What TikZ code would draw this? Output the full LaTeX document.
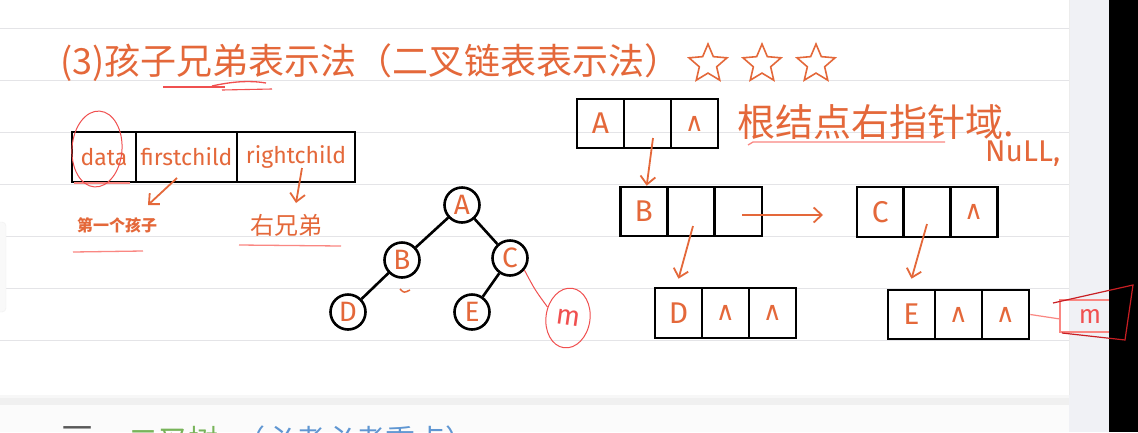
\documentclass[tikz,border=0pt]{standalone}
\usepackage{fontspec}
\usetikzlibrary{arrows.meta,shapes.geometric}
\newfontfamily\cjk{Noto Sans CJK SC}
\newfontfamily\hand{Fira Sans}
\newfontfamily\sym{DejaVu Sans}
\definecolor{ink}{RGB}{228,104,58}
\definecolor{redpen}{RGB}{240,80,80}
\definecolor{pinkline}{RGB}{250,135,130}
\definecolor{darkred}{RGB}{200,30,35}
\definecolor{rulec}{RGB}{228,228,231}
\definecolor{strip}{RGB}{240,241,245}
\definecolor{greenink}{RGB}{120,180,90}
\definecolor{blueink}{RGB}{95,150,210}
\tikzset{
  cell/.style={draw=black, line width=2.6pt, inner sep=0pt, minimum height=49pt, text=ink, font=\hand\fontsize{30}{30}\selectfont},
  fcell/.style={draw=black, line width=2.6pt, inner sep=0pt, minimum height=50pt, text=ink, font=\hand\fontsize{23}{23}\selectfont},
  tn/.style={circle, draw=black, line width=2.6pt, minimum size=35pt, inner sep=0pt, text=ink, font=\hand\fontsize{28}{28}\selectfont},
  edge/.style={draw=black, line width=2.6pt},
  harrow/.style={draw=ink, line width=1.8pt, -{Straight Barb[length=8pt,width=15pt,line width=1.8pt]}},
  nil/.style={font=\sym\fontsize{26}{26}\selectfont},
  hstar/.style={star, star points=5, star point ratio=2.2, draw=ink, line width=1.6pt, minimum size=40pt, inner sep=0pt},
  ruleline/.style={draw=rulec, line width=1pt}
}
\begin{document}
\begin{tikzpicture}[x=1pt,y=-1pt]
\useasboundingbox (0,0) rectangle (1138,432);
% page background
\fill[white] (0,0) rectangle (1138,432);
\fill[gray!12] (0,395) rectangle (1075,405);
\fill[gray!6] (0,395) rectangle (1075,398);
\fill[white!97!gray] (0,405) rectangle (1075,432);
\foreach \yy in {28,80,132,184,236,288,340} \draw[ruleline] (0,\yy) -- (1069,\yy);
\fill[strip] (1069,0) rectangle (1109,432);
\draw[gray!15, line width=0.8pt] (1069,0) -- (1069,395);
\fill[black] (1109,0) rectangle (1138,432);
\fill[gray!5, draw=gray!12, rounded corners=4pt] (-6,222) rectangle (6,312);

% title
\node[anchor=west, inner sep=0pt, text=ink, font=\cjk\fontsize{36}{36}\selectfont] (title) at (60,63) {(3)孩子兄弟表示法（二叉链表表示法）};
\node[hstar] (s1) at (708,64) {};
\node[hstar] (s2) at (762,64) {};
\node[hstar] (s3) at (816,64) {};
\draw[redpen, line width=1.3pt] (163,87) -- (225,87);
\draw[redpen, line width=1.3pt] (212,86) .. controls (230,82) and (248,80) .. (266,83);
\draw[redpen, line width=1.1pt] (222,90) -- (272,89);

% node structure box
\node[fcell, minimum width=64pt] (fd) at (104,157) {data};
\node[fcell, minimum width=101pt] (fc) at (186.5,157) {firstchild};
\node[fcell, minimum width=118pt] (fr) at (296,157) {rightchild};
\draw[pinkline, line width=1.2pt] (74,183) -- (130,183);
\draw[redpen, line width=1pt, rotate around={-4:(97,149)}] (97,149) ellipse [x radius=25, y radius=38];
\node[text=ink, font=\cjk\bfseries\fontsize{16}{16}\selectfont] (l1) at (117,225) {第一个孩子};
\node[text=ink, font=\cjk\fontsize{24}{24}\selectfont] (l2) at (286,225) {右兄弟};
\coordinate (fcS) at (177,178);
\coordinate (fcT) at (148,205);
\coordinate (frS) at (302,168);
\coordinate (frT) at (296,203);
\draw[harrow] (fcS) -- (fcT);
\draw[harrow] (frS) -- (frT);
\draw[pinkline, line width=1.3pt] (73,252) -- (143,251);
\draw[pinkline, line width=1.3pt] (239,245) -- (341,246);

% binary tree
\node[tn] (tA) at (462,205) {A};
\node[tn] (tB) at (402,260) {B};
\node[tn] (tC) at (510,258) {C};
\node[tn] (tD) at (348,312) {D};
\node[tn] (tE) at (472,312) {E};
\draw[edge] (tA) -- (tB);
\draw[edge] (tA) -- (tC);
\draw[edge] (tB) -- (tD);
\draw[edge] (tC) -- (tE);
\draw[ink, line width=1.5pt] (400,289) .. controls (404,293) .. (410,290);
\node[draw=redpen, line width=1pt, ellipse, minimum width=44pt, minimum height=60pt, inner sep=0pt, rotate=-8, text=redpen, font=\hand\fontsize{28}{28}\selectfont] (tM) at (568,318) {m};
\draw[redpen, line width=1pt] (tC.-40) .. controls (535,290) .. (tM.160);

% binary linked list
\node[cell, minimum width=47pt] (A1) at (600.5,123.5) {A};
\node[cell, minimum width=47pt] (A2) at (647.5,123.5) {};
\node[cell, minimum width=47pt, nil] (A3) at (694.5,123.5) {∧};
\node[cell, minimum width=47pt] (B1) at (643.7,211.5) {B};
\node[cell, minimum width=47pt] (B2) at (691,211.5) {};
\node[cell, minimum width=47pt] (B3) at (738.3,211.5) {};
\node[cell, minimum width=47pt, minimum height=50pt] (C1) at (880.3,212) {C};
\node[cell, minimum width=47pt, minimum height=50pt] (C2) at (927,212) {};
\node[cell, minimum width=47pt, minimum height=50pt, nil] (C3) at (973.7,212) {∧};
\node[cell, minimum width=47pt, minimum height=50pt] (D1) at (678.5,313) {D};
\node[cell, minimum width=47pt, minimum height=50pt, nil] (D2) at (725.5,313) {∧};
\node[cell, minimum width=47pt, minimum height=50pt, nil] (D3) at (772.5,313) {∧};
\node[cell, minimum width=47pt] (E1) at (911.5,314.5) {E};
\node[cell, minimum width=47pt, nil] (E2) at (958.5,314.5) {∧};
\node[cell, minimum width=47pt, nil] (E3) at (1005.5,314.5) {∧};
\coordinate (aS) at (653,138);
\coordinate (bS) at (742,215);
\coordinate (bT) at (823,215);
\coordinate (dS) at (693,226);
\coordinate (eS) at (927,224);
\draw[harrow] (aS) -- ([xshift=3pt]B1.north);
\draw[harrow] (bS) -- (bT);
\draw[harrow] (dS) -- ([yshift=8pt]D1.north);
\draw[harrow] (eS) -- ([yshift=10pt]E1.north);

\node[anchor=west, inner sep=0pt, text=ink, font=\cjk\fontsize{38}{38}\selectfont] (note) at (737,122) {根结点右指针域.};
\draw[pinkline, line width=1.3pt] (748,145) -- (753,142) -- (945,142);
\node[anchor=west, inner sep=0pt, text=ink, font=\hand\fontsize{30}{30}\selectfont] (null) at (985,154) {NuLL,};

% M annotation on E
\coordinate (mL) at (1060,319);
\draw[pinkline, line width=1.2pt] (E3.east) -- (mL);
\draw[pinkline, line width=1.2pt] (1109,300) -- (1060,300) -- (1060,332) -- (1109,332);
\draw[darkred, line width=1.2pt] (1053,303) -- (1133,285) -- (1125,340) -- (1062,333);
\node[text=redpen, font=\hand\fontsize{26}{26}\selectfont, inner sep=0pt] (em) at (1090,316) {m};

% next card, cut off at bottom
\begin{scope}
\clip (0,420) rectangle (1075,432);
\node[anchor=north west, inner sep=0pt, text=gray!70!black, font=\cjk\fontsize{30}{30}\selectfont] (t0) at (62,426) {一};
\node[anchor=north west, inner sep=0pt, text=greenink, font=\cjk\fontsize{30}{30}\selectfont] (t1) at (128,426) {二叉树};
\node[anchor=north west, inner sep=0pt, text=blueink, font=\cjk\fontsize{30}{30}\selectfont] (t2) at (235,426) {（必考必考重点）};
\end{scope}
\end{tikzpicture}
\end{document}
